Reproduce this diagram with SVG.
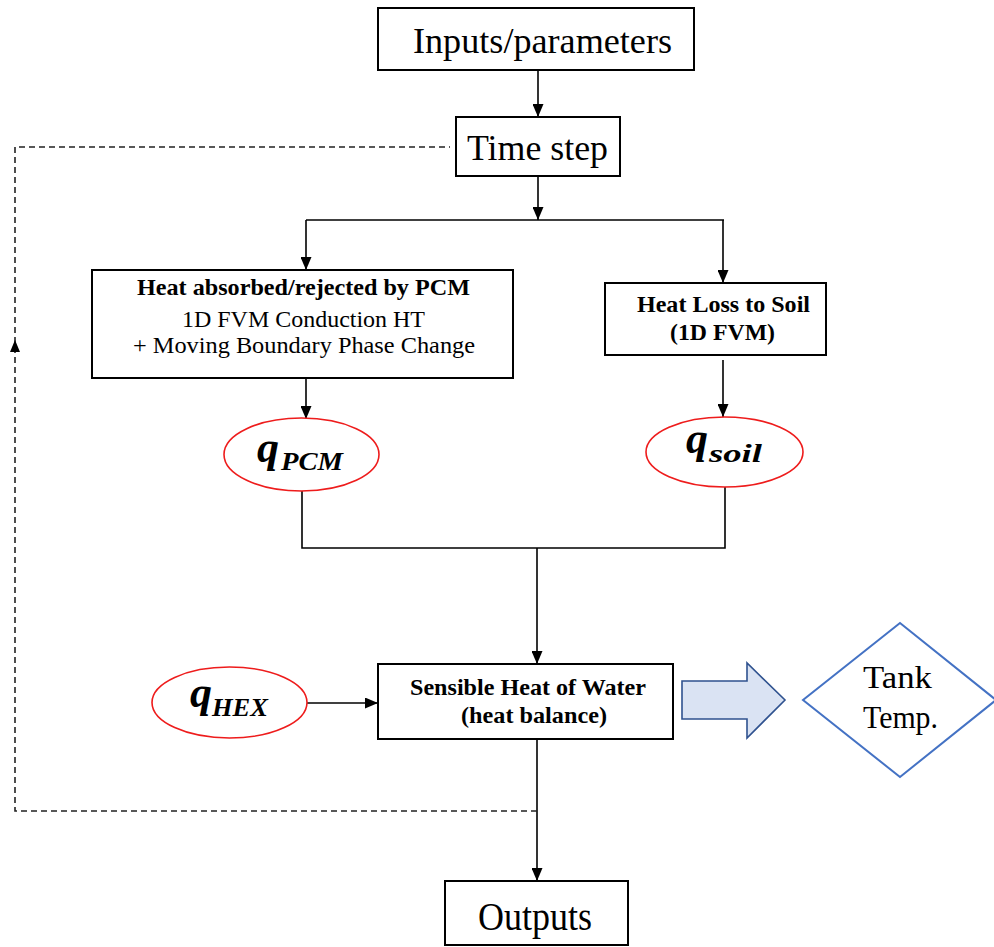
<svg xmlns="http://www.w3.org/2000/svg" width="994" height="947" viewBox="0 0 994 947">
<defs>
<marker id="ah" markerUnits="userSpaceOnUse" markerWidth="13" markerHeight="11" refX="13" refY="5.5" orient="auto" viewBox="0 0 13 11">
<path d="M0,0 L13,5.5 L0,11 z" fill="#000"/>
</marker>
</defs>
<style>
.box{fill:#fff;stroke:#000;stroke-width:2}
.ell{fill:#fff;stroke:#ee1c1c;stroke-width:1.6}
.ln{fill:none;stroke:#000;stroke-width:1.6}
.dash{fill:none;stroke:#222;stroke-width:1.6;stroke-dasharray:6,4}
.t{font-family:"Liberation Serif","Times New Roman",serif;fill:#000;text-anchor:middle}
.b{font-weight:bold}
.q{font-family:"Liberation Serif","Times New Roman",serif;font-weight:bold;font-style:italic;fill:#000}
</style>
<g id="connectors">
<line class="ln" x1="538" y1="70" x2="538" y2="117" marker-end="url(#ah)"/>
<line class="ln" x1="538" y1="176" x2="538" y2="220" marker-end="url(#ah)"/>
<line class="ln" x1="306" y1="220" x2="724" y2="220"/>
<line class="ln" x1="306" y1="220" x2="306" y2="270" marker-end="url(#ah)"/>
<line class="ln" x1="723" y1="220" x2="723" y2="283" marker-end="url(#ah)"/>
<line class="ln" x1="306" y1="378" x2="306" y2="419" marker-end="url(#ah)"/>
<line class="ln" x1="723" y1="360" x2="723" y2="417" marker-end="url(#ah)"/>
<polyline class="ln" points="302,491 302,548 725,548 725,487"/>
<line class="ln" x1="537" y1="548" x2="537" y2="664" marker-end="url(#ah)"/>
<line class="ln" x1="307" y1="703" x2="378" y2="703" marker-end="url(#ah)"/>
<line class="ln" x1="537" y1="739" x2="537" y2="881" marker-end="url(#ah)"/>
<polyline class="dash" points="537,811 15,811 15,147 450,147"/>
<path d="M10,352 L15,340 L20,352 z" fill="#000"/>
</g>
<g id="inputs">
<rect class="box" x="378" y="8" width="316" height="62"/>
<text class="t" x="542.5" y="53" font-size="36" textLength="259" lengthAdjust="spacingAndGlyphs">Inputs/parameters</text>
</g>
<g id="timestep">
<rect class="box" x="456" y="117" width="164" height="59"/>
<text class="t" x="537.5" y="160" font-size="36" textLength="141" lengthAdjust="spacingAndGlyphs">Time step</text>
</g>
<g id="pcm-box">
<rect class="box" x="92" y="270" width="421" height="108"/>
<text class="t b" x="303.5" y="295" font-size="23" textLength="333" lengthAdjust="spacingAndGlyphs">Heat absorbed/rejected by PCM</text>
<text class="t" x="303.5" y="327" font-size="24" textLength="243" lengthAdjust="spacingAndGlyphs">1D FVM Conduction HT</text>
<text class="t" x="304" y="353" font-size="24" textLength="342" lengthAdjust="spacingAndGlyphs">+ Moving Boundary Phase Change</text>
</g>
<g id="soil-box">
<rect class="box" x="605" y="283" width="221" height="72"/>
<text class="t b" x="723.5" y="312" font-size="23" textLength="173" lengthAdjust="spacingAndGlyphs">Heat Loss to Soil</text>
<text class="t b" x="722.5" y="340" font-size="23" textLength="105" lengthAdjust="spacingAndGlyphs">(1D FVM)</text>
</g>
<g id="q-pcm">
<ellipse class="ell" cx="301.5" cy="454.5" rx="77.5" ry="36.5"/>
<text class="q" x="257" y="462" font-size="44" textLength="22" lengthAdjust="spacingAndGlyphs">q</text>
<text class="q" x="281" y="470" font-size="26" textLength="62" lengthAdjust="spacingAndGlyphs">PCM</text>
</g>
<g id="q-soil">
<ellipse class="ell" cx="724.5" cy="452" rx="78.5" ry="35"/>
<text class="q" x="686" y="453" font-size="44" textLength="22" lengthAdjust="spacingAndGlyphs">q</text>
<text class="q" x="709" y="462" font-size="26" textLength="53" lengthAdjust="spacingAndGlyphs">soil</text>
</g>
<g id="q-hex">
<ellipse class="ell" cx="229.5" cy="702.5" rx="77.5" ry="35.5"/>
<text class="q" x="190" y="707" font-size="44" textLength="22" lengthAdjust="spacingAndGlyphs">q</text>
<text class="q" x="212" y="716" font-size="26" textLength="56" lengthAdjust="spacingAndGlyphs">HEX</text>
</g>
<g id="sensible">
<rect class="box" x="378" y="664" width="295" height="75"/>
<text class="t b" x="528" y="695" font-size="23" textLength="236" lengthAdjust="spacingAndGlyphs">Sensible Heat of Water</text>
<text class="t b" x="534" y="723" font-size="23" textLength="146" lengthAdjust="spacingAndGlyphs">(heat balance)</text>
</g>
<g id="block-arrow">
<polygon points="682,681 747,681 747,663 785,700 747,738 747,719 682,719" fill="#dae3f3" stroke="#2f528f" stroke-width="1.6"/>
</g>
<g id="tank-temp">
<polygon points="900,623 996,700 900,777 803,700" fill="#fff" stroke="#4472c4" stroke-width="2"/>
<text class="t" x="897.5" y="688" font-size="31" textLength="69" lengthAdjust="spacingAndGlyphs">Tank</text>
<text class="t" x="900.5" y="728" font-size="31" textLength="75" lengthAdjust="spacingAndGlyphs">Temp.</text>
</g>
<g id="outputs">
<rect class="box" x="445" y="881" width="183" height="64"/>
<text class="t" x="535" y="930" font-size="40" textLength="114" lengthAdjust="spacingAndGlyphs">Outputs</text>
</g>
</svg>
